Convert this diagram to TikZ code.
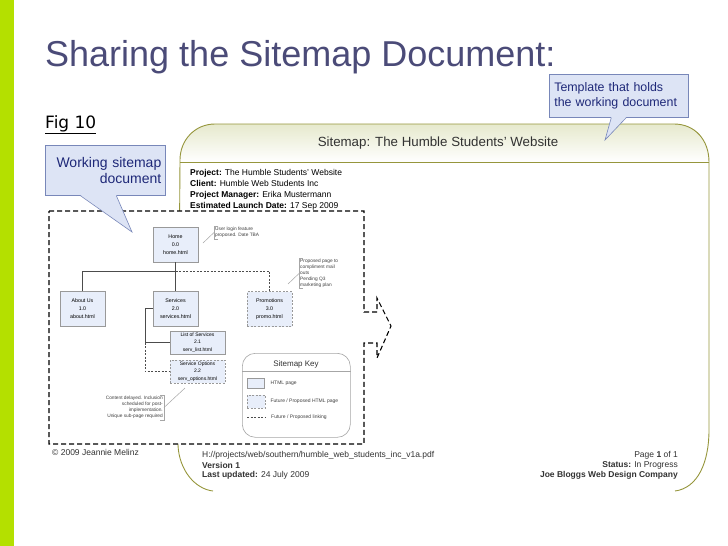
\documentclass[tikz,border=0pt]{standalone}
\usepackage{fontspec}
\setmainfont{Liberation Sans}
\newfontfamily\verd{DejaVu Sans}
\usepackage{xcolor}
\usepackage{tikz}
\usetikzlibrary{positioning}

\definecolor{barra}{RGB}{180,224,0}
\definecolor{titulo}{RGB}{75,75,120}
\definecolor{oliva}{RGB}{150,150,60}
\definecolor{cabecera}{RGB}{230,233,205}
\definecolor{globo}{RGB}{221,228,245}
\definecolor{globoborde}{RGB}{120,135,185}
\definecolor{globotexto}{RGB}{30,40,120}
\definecolor{pagina}{RGB}{232,238,250}
\definecolor{pie}{RGB}{50,50,50}

\tikzset{
  pagebox/.style={draw=gray!80, fill=pagina, minimum width=45, minimum height=35, inner sep=0.5pt, align=center, font=\fontsize{5.3}{8}\selectfont},
  subbox/.style={pagebox, minimum width=55, minimum height=23, font=\fontsize{5}{7.3}\selectfont},
  future/.style={dash pattern=on 2pt off 1.5pt},
  link/.style={draw=gray!60!black, line width=0.6pt},
  notetext/.style={font=\fontsize{4.8}{5.9}\selectfont, text=gray!50!black, inner sep=1pt},
  keytext/.style={font=\fontsize{5}{6}\selectfont, text=gray!50!black, inner sep=1pt},
  infotext/.style={font=\fontsize{8.5}{10}\selectfont, inner sep=0pt},
  foottext/.style={font=\fontsize{8.5}{10}\selectfont, text=pie, inner sep=0pt},
  callbox/.style={draw=globoborde, fill=globo, text=globotexto, inner sep=4pt, line width=0.6pt},
}

\begin{document}
\begin{tikzpicture}[x=1pt, y=-1pt]

\useasboundingbox (0,0) rectangle (728,546);

% Barra lateral
\fill[barra] (0,0) rectangle (14,546);

% Titulo
\node (title) at (45,66) [anchor=base west, inner sep=0pt, text=titulo, font=\fontsize{36}{40}\selectfont] {Sharing the Sitemap Document:};
\node (fig) at (45,128) [anchor=base west, inner sep=0pt, font=\verd\fontsize{17}{19}\selectfont] {\underline{Fig 10}};

% Plantilla (marco)
\shade[top color=cabecera, bottom color=white] (180,162) -- (180,160) .. controls (180,140) and (195,124) .. (215,124) -- (674,124) .. controls (695,124) and (709,140) .. (709,162) -- cycle;
\draw[oliva, line width=0.9pt] (178,445) -- (180,160) .. controls (180,140) and (195,124) .. (215,124) -- (674,124) .. controls (695,124) and (709,140) .. (709,162) -- (709,430) .. controls (709,462) and (698,488) .. (675,491);
\draw[oliva, line width=0.9pt] (178,445) .. controls (179,470) and (195,489) .. (213,491);
\draw[oliva, line width=0.6pt] (180,162) -- (709,162);
\node (smtitle) at (438,143) [font=\fontsize{13.3}{15}\selectfont, text=pie] {Sitemap: The Humble Students' Website};

% Datos del proyecto
\node (proj) at (190,175) [anchor=base west, infotext] {\textbf{Project:} The Humble Students' Website};
\node (client) at (190,186) [anchor=base west, infotext] {\textbf{Client:} Humble Web Students Inc};
\node (manager) at (190,197) [anchor=base west, infotext] {\textbf{Project Manager:} Erika Mustermann};
\node (launch) at (190,208) [anchor=base west, infotext] {\textbf{Estimated Launch Date:} 17 Sep 2009};

% Documento de trabajo
\filldraw[fill=white, line width=1.1pt, dash pattern=on 5pt off 3pt] (49,211) -- (364,211) -- (364,312) -- (377,312) -- (377,298) -- (391,326) -- (377,358) -- (377,343) -- (364,343) -- (364,444) -- (49,444) -- cycle;

% Paginas
\node (home) at (175.5,244.5) [pagebox] {Home\\0.0\\home.html};
\node (about) at (82.5,309) [pagebox] {About Us\\1.0\\about.html};
\node (serv) at (175.5,309) [pagebox] {Services\\2.0\\services.html};
\node (promo) at (269.5,309) [pagebox, future] {Promotions\\3.0\\promo.html};
\node (list) at (197.5,342.5) [subbox] {List of Services\\2.1\\serv\_list.html};
\node (opt) at (197.5,371.5) [subbox, future] {Service Options\\2.2\\serv\_options.html};

% Enlaces
\coordinate (junc) at (175.5,271);
\coordinate (sb) at (145,308);
\draw[link] (about.north) |- (junc);
\draw[link] (home) -- (serv);
\draw[link, future] (junc) -| (promo.north);
\draw[link] (serv.west |- sb) -- (sb) |- (list.west);
\draw[link, future] (list.west -| sb) |- (opt.west);

% Notas
\node (homenote) at (214,232.5) [anchor=west, align=left, notetext] {User login feature\\proposed. Date TBA};
\draw[gray!70, line width=0.5pt] ([xshift=4]homenote.north west) -- (homenote.north west) -- (homenote.south west) -- ([xshift=4]homenote.south west);
\coordinate (homept) at (203,243);
\draw[gray!70, line width=0.5pt] (homept) -- (homenote.west);

\node (promonote) at (299,273.5) [anchor=west, align=left, notetext] {Proposed page to\\compliment mail\\outs\\Pending Q3\\marketing plan};
\draw[gray!70, line width=0.5pt] ([xshift=4]promonote.north west) -- (promonote.north west) -- (promonote.south west) -- ([xshift=4]promonote.south west);
\coordinate (promopt) at (288,284);
\draw[gray!70, line width=0.5pt] (promopt) -- (promonote.west);

\node (optnote) at (164,407.5) [anchor=east, align=right, notetext] {Content delayed. Inclusion\\scheduled for post-\\implementation.\\Unique sub-page required};
\draw[gray!70, line width=0.5pt] ([xshift=-4]optnote.north east) -- (optnote.north east) -- (optnote.south east) -- ([xshift=-4]optnote.south east);
\coordinate (optpt) at (185,388);
\draw[gray!70, line width=0.5pt] (optnote.east) -- (optpt);

% Leyenda
\node (key) at (242,353) [anchor=north west, draw=gray!70, line width=0.6pt, rounded corners=13, minimum width=108, minimum height=84] {};
\node (keytitle) at (296,364) [font=\fontsize{8}{9}\selectfont, text=pie] {Sitemap Key};
\draw[gray!70, line width=0.6pt] (key.west |- keytitle.south) -- (key.east |- keytitle.south);
\node (khtml) at (247,378) [pagebox, anchor=north west, minimum width=17, minimum height=10] {};
\node (khtmltxt) [right=5pt of khtml, keytext] {HTML page};
\node (kfut) at (247,395) [pagebox, future, anchor=north west, minimum width=18, minimum height=13] {};
\node (kfuttxt) [right=4pt of kfut, keytext] {Future / Proposed HTML page};
\coordinate (kl1) at (247,417);
\coordinate (kl2) at (265,417);
\draw[link, future] (kl1) -- (kl2);
\node (klinktxt) [right=5pt of kl2, keytext] {Future / Proposed linking};

% Pie
\node (copy) at (52,452) [anchor=west, foottext] {\textcopyright{} 2009 Jeannie Melinz};
\node (path) at (202,455) [anchor=west, foottext] {H://projects/web/southern/humble\_web\_students\_inc\_v1a.pdf};
\node (ver) at (202,465) [anchor=west, foottext] {\textbf{Version 1}};
\node (upd) at (202,475) [anchor=west, foottext] {\textbf{Last updated:} 24 July 2009};
\node (page) at (678,455) [anchor=east, foottext] {Page \textbf{1} of 1};
\node (status) at (678,465) [anchor=east, foottext] {\textbf{Status:} In Progress};
\node (company) at (678,475) [anchor=east, foottext] {\textbf{Joe Bloggs Web Design Company}};

% Globos
\node (wsd) at (45,145) [callbox, anchor=north west, text width=112, minimum height=50, align=right, font=\fontsize{14}{16}\selectfont] {Working sitemap\\document};
\coordinate (wsdtip) at (132,232);
\fill[globo] ([xshift=-25,yshift=0.6]wsd.south) -- (wsdtip) -- ([xshift=11,yshift=0.6]wsd.south) -- cycle;
\draw[globoborde, line width=0.6pt] ([xshift=-25]wsd.south) -- (wsdtip) -- ([xshift=11]wsd.south);

\node (tpl) at (549,74) [callbox, anchor=north west, text width=129, minimum height=43, inner xsep=5pt, inner ysep=3pt, align=left, font=\fontsize{12.4}{14.5}\selectfont] {Template that holds\\the working document};
\coordinate (tpltip) at (605,140);
\fill[globo] ([xshift=-7.5,yshift=0.6]tpl.south) -- (tpltip) -- ([xshift=7.5,yshift=0.6]tpl.south) -- cycle;
\draw[globoborde, line width=0.6pt] ([xshift=-7.5]tpl.south) -- (tpltip) -- ([xshift=7.5]tpl.south);

\end{tikzpicture}
\end{document}
